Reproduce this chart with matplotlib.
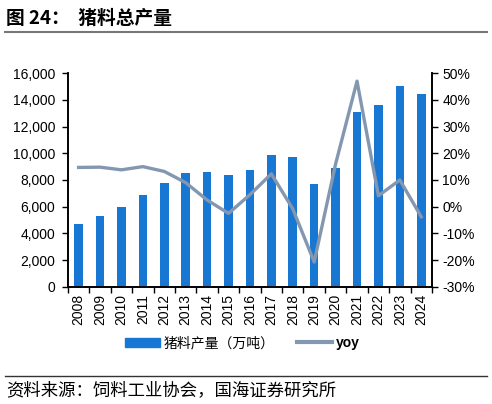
import matplotlib
matplotlib.use("Agg")
import matplotlib.pyplot as plt
from matplotlib.ticker import FuncFormatter, FixedLocator
from matplotlib.patches import Patch
from matplotlib.lines import Line2D

plt.rcParams['font.family'] = ['Noto Sans CJK SC', 'DejaVu Sans']

# 数据
years = ['2008', '2009', '2010', '2011', '2012', '2013', '2014', '2015', '2016',
         '2017', '2018', '2019', '2020', '2021', '2022', '2023', '2024']
output = [4680, 5300, 6000, 6850, 7800, 8500, 8620, 8350, 8780,
          9840, 9720, 7700, 8920, 13100, 13600, 15000, 14400]
yoy = [14.7, 14.8, 13.8, 15.0, 13.2, 9.0, 2.5, -2.5, 4.5,
       12.3, -0.8, -20.7, 16.0, 47.0, 4.1, 10.0, -3.8]

bar_color = '#1877D2'
line_color = '#8497B0'
num_font = ['Liberation Sans', 'DejaVu Sans']

fig = plt.figure(figsize=(4.92, 4.04), dpi=100)
ax = fig.add_axes([0.138, 0.290, 0.740, 0.529])
ax2 = ax.twinx()

x = list(range(len(years)))
ax.bar(x, output, width=0.4, color=bar_color, zorder=2)
ax2.plot(x, [v / 100 for v in yoy], color=line_color, lw=2.4, zorder=3)

ax.set_xlim(-0.5, len(years) - 0.5)
ax.set_ylim(0, 16000)
ax.set_yticks(range(0, 16001, 2000))
ax.yaxis.set_major_formatter(FuncFormatter(lambda v, p: f'{int(v):,}'))
ax2.set_ylim(-0.3, 0.5)
ax2.set_yticks([i / 10 for i in range(-3, 6)])
ax2.yaxis.set_major_formatter(FuncFormatter(lambda v, p: f'{round(v * 100)}%'))

ax.set_xticks(x)
ax.set_xticklabels(years, rotation=90)
ax.xaxis.set_minor_locator(FixedLocator([i - 0.5 for i in range(len(years) + 1)]))
ax.tick_params(axis='x', which='major', length=0, pad=5)
ax.tick_params(axis='x', which='minor', length=4, direction='out', width=1)
ax.tick_params(axis='y', length=4, width=1, pad=5)
ax2.tick_params(axis='y', length=4, width=1)

for lab in ax.get_xticklabels() + ax.get_yticklabels() + ax2.get_yticklabels():
    lab.set_family(num_font)
    lab.set_fontsize(10)

for a in (ax, ax2):
    a.spines['top'].set_visible(False)
    for s in ('left', 'right', 'bottom'):
        a.spines[s].set_linewidth(1.2)

handles = [Patch(color=bar_color), Line2D([], [], color=line_color, lw=3)]
leg = fig.legend(handles, ['猪料产量（万吨）', 'yoy'], loc='center', bbox_to_anchor=(0.493, 0.151),
                 ncol=2, frameon=False, fontsize=10, handlelength=2.5, handleheight=0.6,
                 columnspacing=1.6, handletextpad=0.3)
leg.get_texts()[1].set_family(num_font)
leg.get_texts()[1].set_fontweight('bold')

# 标题与来源
fig.text(0.012, 0.955, '图 24：  猪料总产量', fontsize=13.5, fontweight='bold', va='center')
fig.add_artist(Line2D([0.01, 0.99], [0.921, 0.921], color='#777777', lw=1.5))
fig.add_artist(Line2D([0.01, 0.99], [0.069, 0.069], color='#333333', lw=1))
fig.text(0.012, 0.035, '资料来源：饲料工业协会，国海证券研究所', fontsize=12.5, va='center')

fig.savefig('out.png', dpi=100)
